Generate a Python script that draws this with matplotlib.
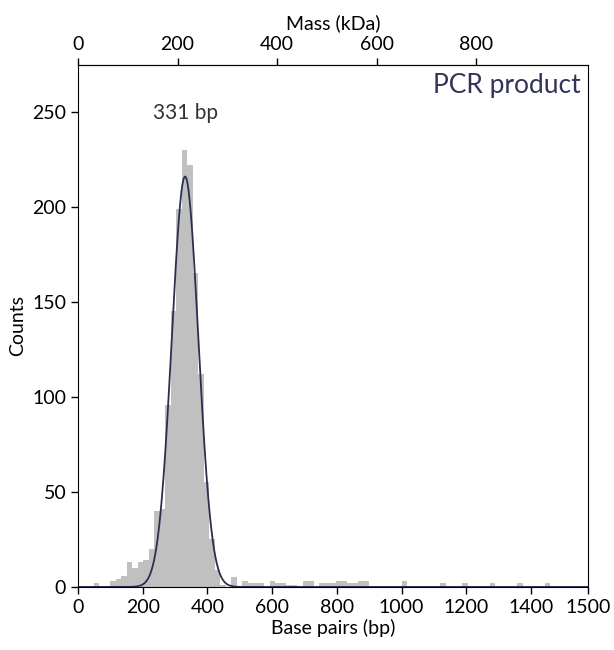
import numpy as np
import matplotlib.pyplot as plt

plt.rcParams['font.family'] = ['Lato', 'DejaVu Sans']

# histogram: 17 bp bins, first left edge at 14 bp
bin_start = 14
bin_width = 17
counts = [0, 0, 2, 0, 0, 3, 4, 6, 13, 10,
          13, 14, 20, 40, 41, 96, 145, 199, 230, 222,
          165, 112, 55, 25, 9, 1, 0, 5, 0, 3,
          2, 2, 2, 0, 3, 2, 2, 1, 1, 0,
          3, 3, 0, 2, 2, 2, 3, 3, 2, 2,
          3, 3, 0, 0, 0, 0, 0, 0, 3, 0,
          0, 0, 0, 0, 0, 2, 0, 0, 0, 2,
          0, 0, 0, 0, 2, 0, 0, 0, 0, 2,
          0, 0, 0, 0, 2, 0, 0, 0]

# gaussian fit
fit_mu = 331
fit_sigma = 41
fit_amp = 216

xtick_pos = [0, 200, 400, 600, 800, 1000, 1200, 1400, 1577]
xtick_labels = ['0', '200', '400', '600', '800', '1000', '1200', '1400', '1500']
mass_ticks = [0, 200, 400, 600, 800]
kda_per_bp = 0.65

fig = plt.figure(figsize=(6.14, 6.5), dpi=100)
ax = fig.add_axes([0.127, 0.097, 0.831, 0.803])

lefts = bin_start + bin_width * np.arange(len(counts))
ax.bar(lefts, counts, width=bin_width, align='edge', color='#c0c0c0', linewidth=0)

xs = np.linspace(0, 1577, 800)
ax.plot(xs, fit_amp * np.exp(-0.5 * ((xs - fit_mu) / fit_sigma) ** 2),
        color='#2a2f4f', lw=1.3)

ax.set_xlim(0, 1577)
ax.set_ylim(0, 274.7)
ax.set_xticks(xtick_pos)
ax.set_xticklabels(xtick_labels)
ax.set_yticks(range(0, 251, 50))
ax.tick_params(labelsize=14, length=5, width=1)
ax.set_xlabel('Base pairs (bp)', fontsize=14, labelpad=2)
ax.set_ylabel('Counts', fontsize=14, labelpad=4)

top = ax.secondary_xaxis('top', functions=(lambda b: b * kda_per_bp, lambda m: m / kda_per_bp))
top.set_xticks(mass_ticks)
top.tick_params(labelsize=14, length=5, width=1)
top.set_xlabel('Mass (kDa)', fontsize=14, labelpad=5)

ax.text(fit_mu, 244, f'{fit_mu} bp', ha='center', va='bottom', fontsize=15, color='#333333')
ax.text(0.985, 0.985, 'PCR product', transform=ax.transAxes, ha='right', va='top',
        fontsize=19, color='#33335a')

fig.savefig('out.png')
